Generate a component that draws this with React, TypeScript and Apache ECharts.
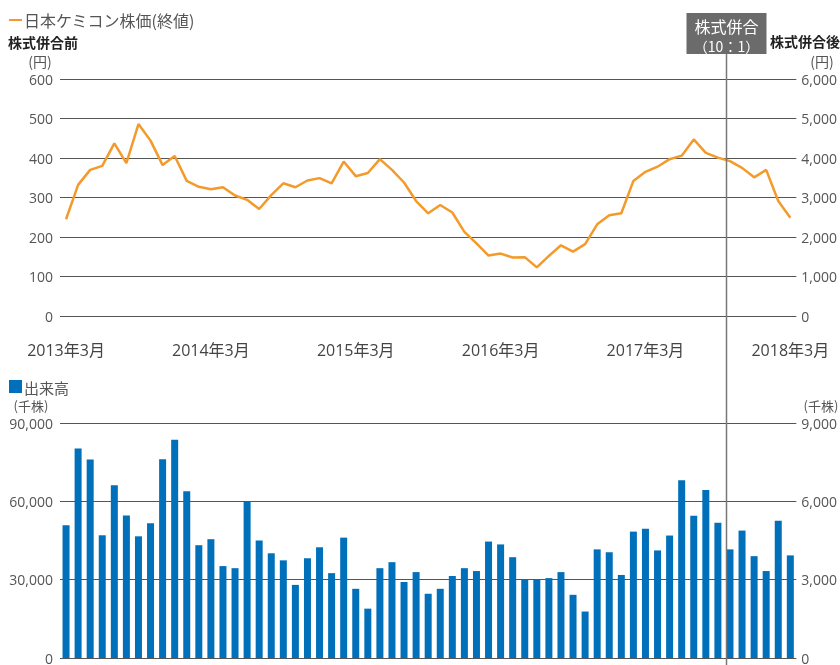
import React, { useEffect, useRef } from "react";
import * as echarts from "echarts";

// Month categories: 2013年3月 … 2018年3月 (61 months)
const categories: string[] = [];
for (let i = 0; i < 61; i++) {
  const m = ((2 + i) % 12) + 1;
  const y = 2013 + Math.floor((2 + i) / 12);
  categories.push(`${y}年${m}月`);
}

// Closing price (pre-consolidation yen scale; right axis = ×10)
const closePrice = [
  245, 332, 370, 380, 437, 387, 486, 444, 382, 405,
  342, 327, 321, 326, 305, 294, 271, 306, 336, 326,
  343, 349, 336, 391, 354, 362, 397, 370, 338, 291,
  260, 281, 262, 213, 184, 153, 158, 148, 149, 123,
  152, 179, 163, 182, 232, 255, 260, 342, 365, 378,
  397, 406, 447, 413, 401, 392, 375, 351, 370, 291,
  249,
];

// Volume (thousand shares, pre-consolidation scale; right axis = ÷10)
const volume = [
  50800, 80200, 76000, 47000, 66200, 54600, 46600, 51600, 76100, 83600,
  63900, 43200, 45500, 35200, 34400, 60000, 45000, 40100, 37400, 28000,
  38200, 42400, 32500, 46100, 26500, 18900, 34400, 36700, 29100, 32900,
  24600, 26500, 31400, 34400, 33300, 44600, 43500, 38600, 29900, 29900,
  30600, 32900, 24200, 17800, 41600, 40500, 31800, 48400, 49500, 41200,
  46900, 68100, 54500, 64300, 51800, 41600, 48800, 39000, 33300, 52600,
  39300,
];

const consolidationIndex = 55; // first month after the 10:1 consolidation

const ORANGE = "#F39A2B";
const BLUE = "#0070BA";
const FONT = "'Open Sans', 'Noto Sans CJK JP', sans-serif";
const JP = "'Noto Sans CJK JP', sans-serif";
const BAR_W = 7;

const fmt = (v: number) => v.toLocaleString("en-US");

export default function App() {
  const ref = useRef<HTMLDivElement>(null);
  useEffect(() => {
    if (!ref.current) return;
    const chart = echarts.init(ref.current, undefined, { renderer: "svg" });
    const yCommon = {
      axisLine: { show: false },
      axisTick: { show: false },
      axisLabel: { fontSize: 14, lineHeight: 14, color: "#555", fontFamily: FONT },
    };
    chart.setOption({
      animation: false,
      textStyle: { fontFamily: FONT },
      grid: [
        { left: 60, right: 42, top: 79, height: 237 },
        { left: 60, right: 42, top: 423, height: 238 },
      ],
      xAxis: [
        {
          gridIndex: 0,
          type: "category",
          data: categories,
          axisLine: { show: false },
          axisTick: { show: false },
          axisLabel: { interval: 11, margin: 26, fontSize: 16, color: "#444", fontFamily: FONT },
        },
        {
          gridIndex: 1,
          type: "category",
          data: categories,
          axisLine: { show: false },
          axisTick: { show: false },
          axisLabel: { show: false },
        },
      ],
      yAxis: [
        {
          gridIndex: 0, type: "value", min: 0, max: 600, interval: 100,
          ...yCommon,
          axisLabel: { ...yCommon.axisLabel, margin: 7 },
          splitLine: { lineStyle: { color: "#555", width: 1 } },
        },
        {
          gridIndex: 0, type: "value", position: "right", min: 0, max: 6000, interval: 1000,
          ...yCommon,
          axisLabel: { ...yCommon.axisLabel, margin: 5, formatter: fmt },
          splitLine: { show: false },
        },
        {
          gridIndex: 1, type: "value", min: 0, max: 90000, interval: 30000,
          ...yCommon,
          axisLabel: { ...yCommon.axisLabel, margin: 7, formatter: fmt },
          splitLine: { lineStyle: { color: "#555", width: 1 } },
        },
        {
          gridIndex: 1, type: "value", position: "right", min: 0, max: 9000, interval: 3000,
          ...yCommon,
          axisLabel: { ...yCommon.axisLabel, margin: 5, formatter: fmt },
          splitLine: { show: false },
        },
      ],
      series: [
        {
          name: "日本ケミコン株価(終値)",
          type: "line",
          xAxisIndex: 0,
          yAxisIndex: 0,
          data: closePrice,
          symbol: "none",
          lineStyle: { color: ORANGE, width: 2.5 },
          itemStyle: { color: ORANGE },
          z: 5,
        },
        {
          name: "出来高",
          type: "bar",
          xAxisIndex: 1,
          yAxisIndex: 2,
          data: volume,
          barWidth: BAR_W,
          itemStyle: { color: BLUE },
        },
      ],
    });

    const c = chart.convertToPixel({ xAxisIndex: 1 }, consolidationIndex) as number;
    const vx = Math.round(c - BAR_W / 2) + 0.5;

    chart.setOption({
      graphic: [
        { type: "line", shape: { x1: 9, y1: 20, x2: 22, y2: 20 }, style: { stroke: ORANGE, lineWidth: 2 } },
        { type: "text", x: 24, y: 20, style: { text: "日本ケミコン株価(終値)", font: `16px ${JP}`, fill: "#555", verticalAlign: "middle" } },
        { type: "text", x: 8, y: 42, style: { text: "株式併合前", font: `bold 14px ${JP}`, fill: "#222", verticalAlign: "middle", lineHeight: 14 } },
        { type: "text", x: 40, y: 61, style: { text: "(円)", font: `14px ${JP}`, fill: "#555", align: "center", verticalAlign: "middle", lineHeight: 14 } },
        { type: "text", x: 840, y: 41, style: { text: "株式併合後", font: `bold 14px ${JP}`, fill: "#222", align: "right", verticalAlign: "middle", lineHeight: 14 } },
        { type: "text", x: 822, y: 61, style: { text: "(円)", font: `14px ${JP}`, fill: "#555", align: "center", verticalAlign: "middle", lineHeight: 14 } },
        { type: "rect", shape: { x: 9, y: 380, width: 13, height: 13 }, style: { fill: BLUE } },
        { type: "text", x: 24, y: 387, style: { text: "出来高", font: `15px ${JP}`, fill: "#555", verticalAlign: "middle" } },
        { type: "text", x: 31, y: 405, style: { text: "(千株)", font: `13px ${JP}`, fill: "#555", align: "center", verticalAlign: "middle", lineHeight: 13 } },
        { type: "text", x: 821, y: 405, style: { text: "(千株)", font: `13px ${JP}`, fill: "#555", align: "center", verticalAlign: "middle", lineHeight: 13 } },
        { type: "line", shape: { x1: vx, y1: 54, x2: vx, y2: 665 }, style: { stroke: "#777", lineWidth: 1.5 }, z: 10 },
        { type: "rect", shape: { x: vx - 40, y: 13, width: 80, height: 41 }, style: { fill: "#6b6b6b" }, z: 11 },
        { type: "text", x: vx, y: 26, style: { text: "株式併合", font: `16px ${JP}`, fill: "#fff", align: "center", verticalAlign: "middle", lineHeight: 16 }, z: 12 },
        { type: "text", x: vx, y: 46, style: { text: "（10：1）", font: `14px ${JP}`, fill: "#fff", align: "center", verticalAlign: "middle", lineHeight: 14 }, z: 12 },
      ],
    });

    return () => chart.dispose();
  }, []);
  return <div ref={ref} style={{ position: "fixed", left: 0, top: 0, width: 840, height: 665 }} />;
}
